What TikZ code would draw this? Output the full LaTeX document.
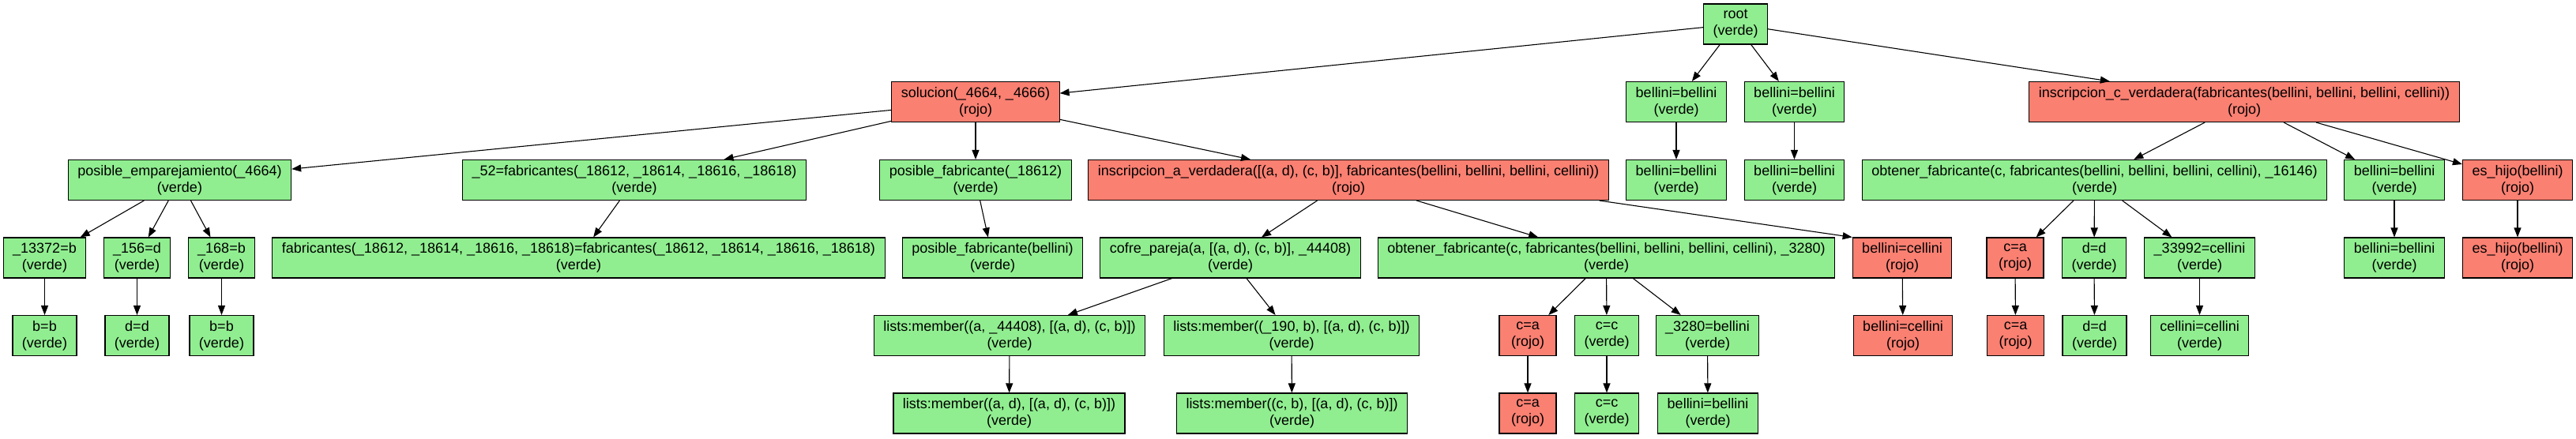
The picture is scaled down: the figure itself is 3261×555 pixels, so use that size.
\documentclass[tikz,border=0pt]{standalone}
\usepackage{fontspec}
\setmainfont{Liberation Sans}
\usetikzlibrary{arrows.meta}

\definecolor{verdeclaro}{HTML}{90EE90}
\definecolor{salmon}{HTML}{FA8072}

\tikzset{
	caja/.style={draw=black, line width=1.1pt, align=center, inner xsep=12pt, inner ysep=0pt,
		minimum height=51pt, minimum width=72pt, font=\fontsize{18}{21}\selectfont},
	verde/.style={caja, fill=verdeclaro},
	rojo/.style={caja, fill=salmon},
	flecha/.style={line width=1.1pt, -{Triangle[length=12pt,width=9pt]}}
}

\begin{document}
\begin{tikzpicture}[x=1pt, y=-1pt]
			%%%%% START %%%%%
			\useasboundingbox (0, 0) rectangle (3261, 555);
			
			\node[verde] (root) at (2197, 30.5) {root\\(verde)};
			
			\node[rojo] (solucion) at (1235, 129) {solucion(\_4664, \_4666)\\(rojo)};
			\node[verde] (bbA1) at (2122, 129) {bellini=bellini\\(verde)};
			\node[verde] (bbB1) at (2271.5, 129) {bellini=bellini\\(verde)};
			\node[rojo] (inscC) at (2841, 129) {inscripcion\_c\_verdadera(fabricantes(bellini, bellini, bellini, cellini))\\(rojo)};
			
			\node[verde] (posEmp) at (227.5, 228) {posible\_emparejamiento(\_4664)\\(verde)};
			\node[verde] (fab52) at (803, 228) {\_52=fabricantes(\_18612, \_18614, \_18616, \_18618)\\(verde)};
			\node[verde] (posFab) at (1235, 228) {posible\_fabricante(\_18612)\\(verde)};
			\node[rojo] (inscA) at (1707, 228) {inscripcion\_a\_verdadera([(a, d), (c, b)], fabricantes(bellini, bellini, bellini, cellini))\\(rojo)};
			\node[verde] (bbA2) at (2122, 228) {bellini=bellini\\(verde)};
			\node[verde] (bbB2) at (2271.5, 228) {bellini=bellini\\(verde)};
			\node[verde] (obtC) at (2651.5, 228) {obtener\_fabricante(c, fabricantes(bellini, bellini, bellini, cellini), \_16146)\\(verde)};
			\node[verde] (bbC1) at (3031, 228) {bellini=bellini\\(verde)};
			\node[rojo] (hijo1) at (3187, 228) {es\_hijo(bellini)\\(rojo)};
			
			\node[verde] (v13372) at (56.5, 326.5) {\_13372=b\\(verde)};
			\node[verde] (v156) at (173.5, 326.5) {\_156=d\\(verde)};
			\node[verde] (v168) at (280.5, 326.5) {\_168=b\\(verde)};
			\node[verde] (fabIgual) at (732.5, 326.5) {fabricantes(\_18612, \_18614, \_18616, \_18618)=fabricantes(\_18612, \_18614, \_18616, \_18618)\\(verde)};
			\node[verde] (posFabBel) at (1256.5, 326.5) {posible\_fabricante(bellini)\\(verde)};
			\node[verde] (cofre) at (1557.5, 326.5) {cofre\_pareja(a, [(a, d), (c, b)], \_44408)\\(verde)};
			\node[verde] (obtA) at (2033.5, 326.5) {obtener\_fabricante(c, fabricantes(bellini, bellini, bellini, cellini), \_3280)\\(verde)};
			\node[rojo] (bcA1) at (2408, 326.5) {bellini=cellini\\(rojo)};
			\node[rojo] (caC1) at (2551, 326.5) {c=a\\(rojo)};
			\node[verde] (ddC1) at (2651, 326.5) {d=d\\(verde)};
			\node[verde] (v33992) at (2784.5, 326.5) {\_33992=cellini\\(verde)};
			\node[verde] (bbC2) at (3031, 326.5) {bellini=bellini\\(verde)};
			\node[rojo] (hijo2) at (3187, 326.5) {es\_hijo(bellini)\\(rojo)};
			
			\node[verde] (bb1) at (56.5, 425) {b=b\\(verde)};
			\node[verde] (dd1) at (173.5, 425) {d=d\\(verde)};
			\node[verde] (bb2) at (280.5, 425) {b=b\\(verde)};
			\node[verde] (memA1) at (1278, 425) {lists:member((a, \_44408), [(a, d), (c, b)])\\(verde)};
			\node[verde] (memB1) at (1635, 425) {lists:member((\_190, b), [(a, d), (c, b)])\\(verde)};
			\node[rojo] (caA1) at (1934, 425) {c=a\\(rojo)};
			\node[verde] (ccA1) at (2034, 425) {c=c\\(verde)};
			\node[verde] (v3280) at (2161.5, 425) {\_3280=bellini\\(verde)};
			\node[rojo] (bcA2) at (2409, 425) {bellini=cellini\\(rojo)};
			\node[rojo] (caC2) at (2551.5, 425) {c=a\\(rojo)};
			\node[verde] (ddC2) at (2651.5, 425) {d=d\\(verde)};
			\node[verde] (cellC) at (2784.5, 425) {cellini=cellini\\(verde)};
			
			\node[verde] (memA2) at (1277.5, 523.5) {lists:member((a, d), [(a, d), (c, b)])\\(verde)};
			\node[verde] (memB2) at (1635.5, 523.5) {lists:member((c, b), [(a, d), (c, b)])\\(verde)};
			\node[rojo] (caA2) at (1934, 523.5) {c=a\\(rojo)};
			\node[verde] (ccA2) at (2034, 523.5) {c=c\\(verde)};
			\node[verde] (bbA3) at (2162, 523.5) {bellini=bellini\\(verde)};
			
			\draw[flecha] (root) -- (solucion);
			\draw[flecha] (root) -- (bbA1);
			\draw[flecha] (root) -- (bbB1);
			\draw[flecha] (root) -- (inscC);
			
			\draw[flecha] (solucion) -- (posEmp);
			\draw[flecha] (solucion) -- (fab52);
			\draw[flecha] (solucion) -- (posFab);
			\draw[flecha] (solucion) -- (inscA);
			\draw[flecha] (bbA1) -- (bbA2);
			\draw[flecha] (bbB1) -- (bbB2);
			\draw[flecha] (inscC) -- (obtC);
			\draw[flecha] (inscC) -- (bbC1);
			\draw[flecha] (inscC) -- (hijo1);
			
			\draw[flecha] (posEmp) -- (v13372);
			\draw[flecha] (posEmp) -- (v156);
			\draw[flecha] (posEmp) -- (v168);
			\draw[flecha] (fab52) -- (fabIgual);
			\draw[flecha] (posFab) -- (posFabBel);
			\draw[flecha] (inscA) -- (cofre);
			\draw[flecha] (inscA) -- (obtA);
			\draw[flecha] ([xshift=-12pt]inscA.south east) -- (bcA1.north west);
			\draw[flecha] (obtC) -- (caC1);
			\draw[flecha] (obtC) -- (ddC1);
			\draw[flecha] (obtC) -- (v33992);
			\draw[flecha] (bbC1) -- (bbC2);
			\draw[flecha] (hijo1) -- (hijo2);
			
			\draw[flecha] (v13372) -- (bb1);
			\draw[flecha] (v156) -- (dd1);
			\draw[flecha] (v168) -- (bb2);
			\draw[flecha] (cofre) -- (memA1);
			\draw[flecha] (cofre) -- (memB1);
			\draw[flecha] (obtA) -- (caA1);
			\draw[flecha] (obtA) -- (ccA1);
			\draw[flecha] (obtA) -- (v3280);
			\draw[flecha] (bcA1) -- (bcA2);
			\draw[flecha] (caC1) -- (caC2);
			\draw[flecha] (ddC1) -- (ddC2);
			\draw[flecha] (v33992) -- (cellC);
			
			\draw[flecha] (memA1) -- (memA2);
			\draw[flecha] (memB1) -- (memB2);
			\draw[flecha] (caA1) -- (caA2);
			\draw[flecha] (ccA1) -- (ccA2);
			\draw[flecha] (v3280) -- (bbA3);
			
			%%%%% END %%%%%
\end{tikzpicture}
\end{document}
